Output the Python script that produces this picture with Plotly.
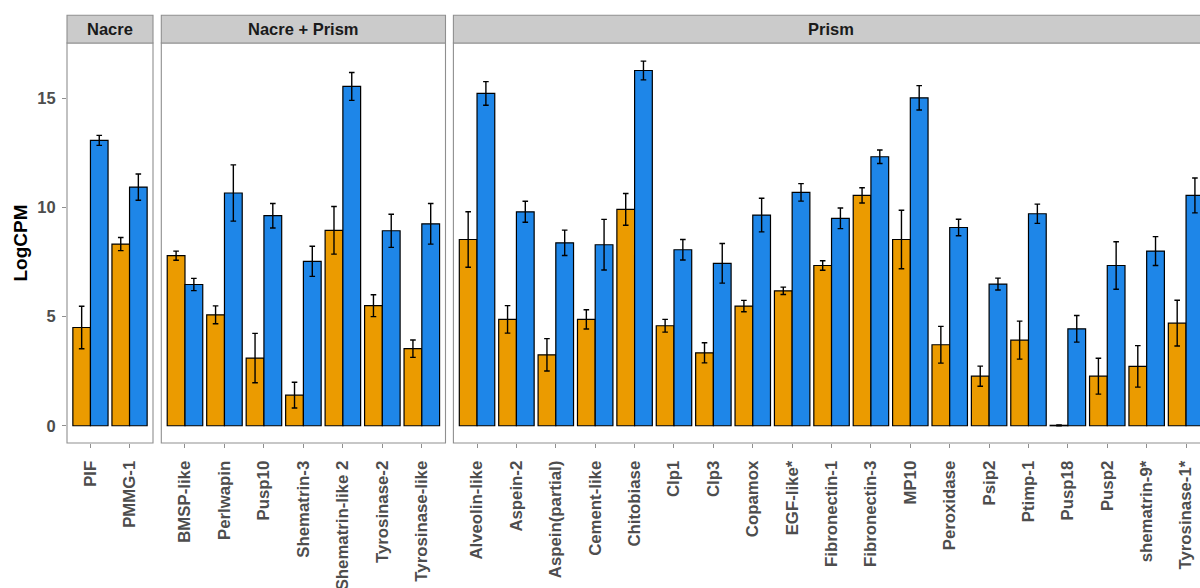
import plotly.graph_objects as go

# ---------------- data ----------------
panels = ["Nacre", "Nacre + Prism", "Prism"]

nacre_genes = ["PIF", "PMMG-1"]
nacre_orange = [4.50, 8.32]
nacre_orange_err = [0.97, 0.30]
nacre_blue = [13.07, 10.93]
nacre_blue_err = [0.23, 0.60]

np_genes = ["BMSP-like", "Perlwapin", "Pusp10", "Shematrin-3",
            "Shematrin-like 2", "Tyrosinase-2", "Tyrosinase-like"]
np_orange = [7.79, 5.08, 3.10, 1.40, 8.95, 5.50, 3.53]
np_orange_err = [0.21, 0.41, 1.13, 0.59, 1.09, 0.50, 0.40]
np_blue = [6.47, 10.66, 9.62, 7.53, 15.54, 8.93, 9.25]
np_blue_err = [0.28, 1.29, 0.56, 0.69, 0.64, 0.76, 0.93]

prism_genes = ["Alveolin-like", "Aspein-2", "Aspein(partial)", "Cement-like",
               "Chitobiase", "Clp1", "Clp3", "Copamox", "EGF-like*",
               "Fibronectin-1", "Fibronectin-3", "MP10", "Peroxidase",
               "Psip2", "Ptimp-1", "Pusp18", "Pusp2", "shematrin-9*",
               "Tyrosinase-1*"]
prism_orange = [8.53, 4.87, 3.25, 4.87, 9.91, 4.58, 3.34, 5.48, 6.18,
                7.34, 10.55, 8.53, 3.71, 2.27, 3.92, 0.02, 2.27, 2.72, 4.70]
prism_orange_err = [1.27, 0.63, 0.74, 0.44, 0.73, 0.29, 0.46, 0.26, 0.17,
                    0.22, 0.35, 1.34, 0.84, 0.46, 0.87, 0.02, 0.82, 0.95, 1.05]
prism_blue = [15.22, 9.80, 8.38, 8.29, 16.27, 8.06, 7.44, 9.65, 10.69,
              9.50, 12.32, 15.02, 9.08, 6.49, 9.71, 4.44, 7.34, 8.00, 10.55]
prism_blue_err = [0.54, 0.48, 0.58, 1.16, 0.43, 0.47, 0.91, 0.77, 0.40,
                  0.47, 0.31, 0.56, 0.38, 0.27, 0.44, 0.61, 1.09, 0.66, 0.80]

y_ticks = [0, 5, 10, 15]

# ---------------- style ----------------
ORANGE = "#EB9B00"
BLUE = "#1E86E8"
FONT = "Liberation Sans"
TICKCOL = "#4D4D4D"
BORDER = "#8F8F8F"

W, H = 1200, 588
ML, MR, MT, MB = 67, 0, 43, 145
PW = W - ML - MR
PH = H - MT - MB


def fx(px):
    return min(1.0, max(0.0, (px - ML) / PW))


def fy(py):
    return (H - MB - py) / PH


domains = [
    [fx(67.0), fx(153.0)],
    [fx(161.3), fx(445.5)],
    [fx(453.4), 1.0],
]
xranges = [
    [-0.6, len(nacre_genes) - 0.4],
    [-0.6, len(np_genes) - 0.4],
    [-0.6, (1200 - 453.4) / 39.39 - 0.6],
]
yrange = [-0.79, 17.53]

data_sets = [
    (nacre_genes, nacre_orange, nacre_orange_err, nacre_blue, nacre_blue_err),
    (np_genes, np_orange, np_orange_err, np_blue, np_blue_err),
    (prism_genes, prism_orange, prism_orange_err, prism_blue, prism_blue_err),
]

fig = go.Figure()
for i, (genes, o, oe, b, be) in enumerate(data_sets):
    xa = "x" if i == 0 else f"x{i+1}"
    ya = "y" if i == 0 else f"y{i+1}"
    for vals, errs, col in ((o, oe, ORANGE), (b, be, BLUE)):
        fig.add_trace(go.Bar(
            x=genes, y=vals, xaxis=xa, yaxis=ya,
            marker=dict(color=col, line=dict(color="black", width=1.2)),
            error_y=dict(type="data", array=errs, color="black",
                         thickness=1.4, width=2.8),
            showlegend=False,
        ))

layout = dict(
    width=W, height=H,
    margin=dict(l=ML, r=MR, t=MT, b=MB, pad=0, autoexpand=False),
    paper_bgcolor="white", plot_bgcolor="white",
    barmode="group", bargap=0.1, bargroupgap=0,
    font=dict(family=FONT, color=TICKCOL),
    showlegend=False,
)

for i in range(3):
    xk = "xaxis" if i == 0 else f"xaxis{i+1}"
    yk = "yaxis" if i == 0 else f"yaxis{i+1}"
    ya = "y" if i == 0 else f"y{i+1}"
    layout[xk] = dict(
        domain=domains[i], anchor=ya, range=xranges[i], type="category",
        tickmode="linear", tick0=0, dtick=1, automargin=False,
        tickangle=-90, ticks="outside", ticklen=4, tickcolor=BORDER,
        tickwidth=1, ticklabelstandoff=6,
        tickfont=dict(family=FONT, size=16.8, color=TICKCOL, weight="bold"),
        showgrid=False, zeroline=False, showline=False, fixedrange=True,
    )
    ydict = dict(
        domain=[0, 1], anchor="x" if i == 0 else f"x{i+1}", range=yrange,
        showgrid=False, zeroline=False, showline=False, fixedrange=True,
        automargin=False,
    )
    if i == 0:
        ydict.update(
            tickmode="array", tickvals=y_ticks,
            ticks="outside", ticklen=4, tickcolor=BORDER, tickwidth=1,
            ticklabelstandoff=3,
            tickfont=dict(family=FONT, size=16.5, color=TICKCOL, weight="bold"),
            title=dict(text="LogCPM", standoff=4,
                       font=dict(family=FONT, size=19, color="black",
                                 weight="bold")),
        )
    else:
        ydict.update(matches="y", showticklabels=False, ticks="")
    layout[yk] = ydict

fig.update_layout(**layout)

# panel borders and facet strips
shapes = []
annotations = []
strip_top = fy(15.3)
prism_right = (1209.6 - ML) / PW
for i, name in enumerate(panels):
    x0, x1 = domains[i]
    if i == 2:
        x1 = prism_right
    shapes.append(dict(type="rect", xref="paper", yref="paper",
                       x0=x0, x1=x1, y0=0, y1=1,
                       line=dict(color=BORDER, width=1.1),
                       fillcolor="rgba(0,0,0,0)", layer="above"))
    shapes.append(dict(type="rect", xref="paper", yref="paper",
                       x0=x0, x1=x1, y0=1, y1=strip_top,
                       line=dict(color=BORDER, width=1.1),
                       fillcolor="#CBCBCB", layer="above"))
    annotations.append(dict(text=name, xref="paper", yref="paper",
                            x=(x0 + x1) / 2, y=(1 + strip_top) / 2,
                            xanchor="center", yanchor="middle",
                            showarrow=False,
                            font=dict(family=FONT, size=16.5, color="#1A1A1A",
                                      weight="bold")))

fig.update_layout(shapes=shapes, annotations=annotations)

fig.write_html(
    "out.html",
    config={"displayModeBar": False},
    post_script="document.body.style.margin='0';"
                "document.body.style.overflow='hidden';",
)
